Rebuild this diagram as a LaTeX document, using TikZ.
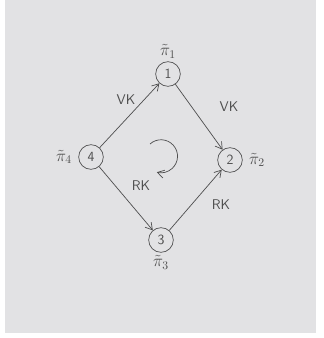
\documentclass[tikz,border=0pt]{standalone}
\usepackage{amsmath,amssymb}
\usepackage{tikz}
\usetikzlibrary{positioning,arrows.meta,calc}
\definecolor{paper}{HTML}{E2E2E4}
\definecolor{pencil}{HTML}{4E4E4E}

\begin{document}
\begin{tikzpicture}[
    x=0.3mm, y=-0.3mm,
    >={Straight Barb[length=2mm,width=2.4mm]},
    font=\sffamily\large,
    state/.style={
        draw=pencil,
        circle,
        semithick,
        minimum size=7.4mm,
        inner sep=0pt,
        text=pencil
    },
    lbl/.style={
        text=pencil,
        inner sep=1pt
    },
    pilbl/.style={
        lbl,
        font=\Large
    },
    arr/.style={->, semithick, draw=pencil}
]

% paper
\useasboundingbox (0,0) rectangle (323,338);
\fill[white] (0,0) rectangle (323,338);
\fill[paper] (5,0) rectangle (316,333);

% states
\node[state] (one) at (168,74) {1};
\node[state] (two) at (230,160) {2};
\node[state] (three) at (161,240) {3};
\node[state] (four) at (91,157) {4};

% state labels
\node[pilbl, above=0.5mm of one] (p1) {$\tilde{\pi}_1$};
\node[pilbl, right=1.5mm of two] (p2) {$\tilde{\pi}_2$};
\node[pilbl, below=0.5mm of three] (p3) {$\tilde{\pi}_3$};
\node[pilbl, left=1.5mm of four] (p4) {$\tilde{\pi}_4$};

% transitions
\draw[arr] (four) -- (one);
\draw[arr] (one) -- (two);
\draw[arr] (four) -- (three);
\draw[arr] (three) -- (two);

% edge labels
\node[lbl] (vk1) at (126,100) {VK};
\node[lbl] (vk2) at (229,107) {VK};
\node[lbl] (rk1) at (141,186) {RK};
\node[lbl] (rk2) at (221,205) {RK};

% rotation
\coordinate (rot) at (161,156);
\draw[arr] ($(rot)+(-11,-12)$) arc[start angle=228, end angle=465, radius=16.5];
\end{tikzpicture}
\end{document}
